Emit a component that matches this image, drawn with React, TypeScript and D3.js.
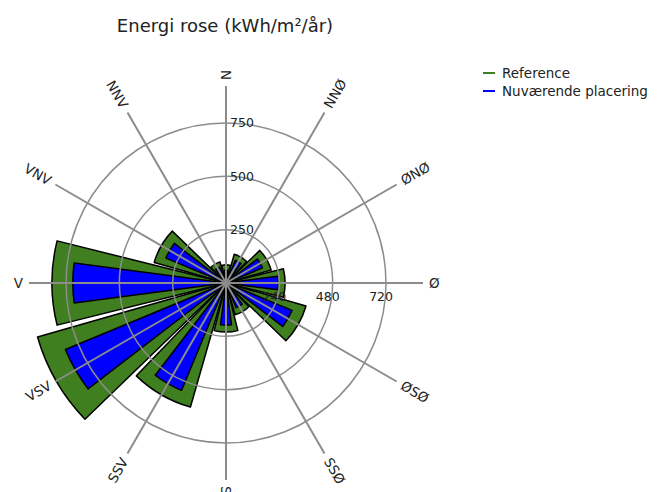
import React from "react";
import * as d3 from "d3";

const directions = ["N", "NNØ", "ØNØ", "Ø", "ØSØ", "SSØ", "S", "SSV", "VSV", "V", "VNV", "NNV"];
const referenceValues = [85, 140, 220, 277, 390, 155, 230, 605, 919, 816, 350, 103];
const currentValues = [60, 115, 185, 244, 335, 125, 197, 545, 815, 718, 305, 80];
const ringValues = [250, 500, 750];
const ringLabelsN = ["250", "500", "750"];
const ringLabelsE = ["240", "480", "720"];
const seriesNames = ["Reference", "Nuværende placering"];

const W = 661;
const H = 492;
const cx = 226;
const cy = 283;
const FONT = "DejaVu Sans, Verdana, sans-serif";
const GREEN = "#3f7f20";
const BLUE = "#0000ff";
const GRID = "#8c8c8c";

export default function App() {
  const r = d3.scaleLinear().domain([0, 750]).range([0, 160]);
  const angle = d3.scaleLinear().domain([0, directions.length]).range([0, 2 * Math.PI]);
  const spokeLen = 197;
  const labelR = 203;

  const greenArc = (v: number, i: number) =>
    d3.arc()({
      innerRadius: 0,
      outerRadius: r(v),
      startAngle: angle(i) - (14 * Math.PI) / 180,
      endAngle: angle(i) + (14 * Math.PI) / 180,
    } as any) as string;
  const blueArc = (v: number, i: number) =>
    d3.arc()({
      innerRadius: 0,
      outerRadius: r(v),
      startAngle: angle(i) - (7.5 * Math.PI) / 180,
      endAngle: angle(i) + (7.5 * Math.PI) / 180,
    } as any) as string;

  return (
    <svg
      width={W}
      height={H}
      style={{ position: "absolute", left: 0, top: 0, background: "#fff" }}
      fontFamily={FONT}
    >
      <text x={225} y={32} fontSize={18} textAnchor="middle" fill="#222">
        Energi rose (kWh/m²/år)
      </text>

      {/* legend */}
      {seriesNames.map((name, i) => (
        <g key={name} transform={`translate(483, ${73 + i * 18})`}>
          <line x1={0} x2={12} y1={0} y2={0} stroke={i === 0 ? GREEN : BLUE} strokeWidth={2} />
          <text x={19} y={0} dy="0.35em" fontSize={13.5} fill="#222">
            {name}
          </text>
        </g>
      ))}

      <g transform={`translate(${cx}, ${cy})`}>
        {referenceValues.map((v, i) => (
          <path key={"g" + i} d={greenArc(v, i)} fill={GREEN} stroke="#000" strokeWidth={1.5} strokeLinejoin="round" />
        ))}
        {currentValues.map((v, i) => (
          <path key={"b" + i} d={blueArc(v, i)} fill={BLUE} stroke="#000" strokeWidth={1.5} strokeLinejoin="round" />
        ))}

        {ringValues.map((v) => (
          <circle key={v} r={r(v)} fill="none" stroke={GRID} strokeWidth={1.5} />
        ))}
        {directions.map((d, i) => {
          const a = angle(i);
          return (
            <line
              key={"s" + d}
              x1={0}
              y1={0}
              x2={Math.sin(a) * spokeLen}
              y2={-Math.cos(a) * spokeLen}
              stroke={GRID}
              strokeWidth={2}
            />
          );
        })}
        <circle r={3} fill={GRID} />

        {directions.map((d, i) => {
          const deg = (i * 360) / directions.length;
          const a = angle(i);
          const x = Math.sin(a) * labelR;
          const y = -Math.cos(a) * labelR;
          let phi = deg - 90;
          let anchor = "start";
          if (deg > 180) {
            phi = phi - 180;
            anchor = "end";
          }
          return (
            <text
              key={"l" + d}
              x={x}
              y={y}
              dy="0.35em"
              fontSize={13.5}
              fill="#222"
              textAnchor={anchor}
              transform={`rotate(${phi}, ${x}, ${y})`}
            >
              {d}
            </text>
          );
        })}

        {ringValues.map((v, i) => (
          <text key={"rn" + v} x={4} y={-r(v)} dy="0.35em" fontSize={12.5} fill="#222">
            {ringLabelsN[i]}
          </text>
        ))}
        {ringValues.map((v, i) => (
          <text key={"re" + v} x={r(v) + 7} y={13.5} dy="0.35em" fontSize={12.5} fill="#222" textAnchor="end">
            {ringLabelsE[i]}
          </text>
        ))}
      </g>
    </svg>
  );
}
